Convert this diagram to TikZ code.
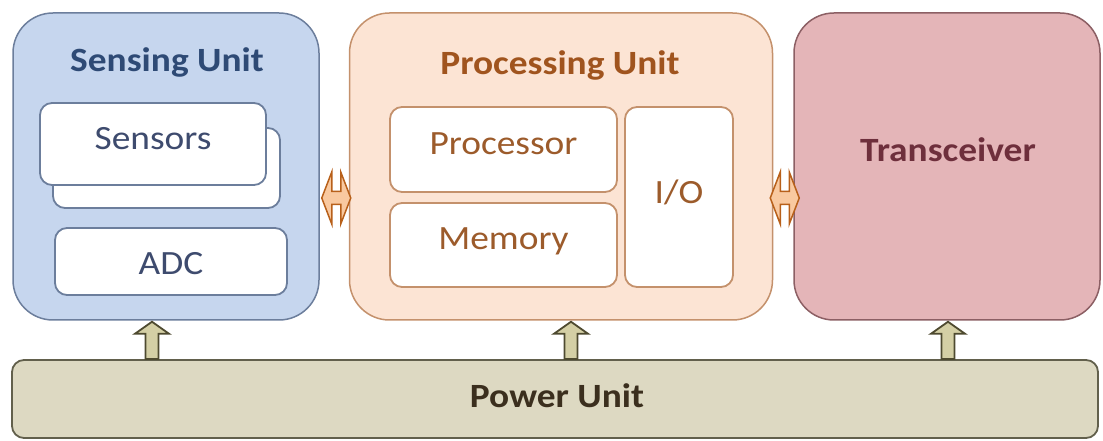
\documentclass[tikz,border=0pt]{standalone}
\usepackage{fontspec}
\setmainfont[FakeStretch=1.1]{Carlito}
\usetikzlibrary{calc}
\definecolor{senFill}{HTML}{C6D6EE}
\definecolor{senLine}{HTML}{6C7E9C}
\definecolor{senText}{HTML}{2E4A75}
\definecolor{senIn}{HTML}{3E4B6E}
\definecolor{proFill}{HTML}{FCE4D4}
\definecolor{proLine}{HTML}{C4916C}
\definecolor{proText}{HTML}{A0541E}
\definecolor{proIn}{HTML}{9C5B2B}
\definecolor{trFill}{HTML}{E4B5B8}
\definecolor{trLine}{HTML}{8C5F64}
\definecolor{trText}{HTML}{6E2F3C}
\definecolor{pwFill}{HTML}{DDD9C2}
\definecolor{pwLine}{HTML}{62604C}
\definecolor{pwText}{HTML}{3B2F1E}
\definecolor{daLine}{HTML}{B8601A}
\definecolor{daFill}{HTML}{F9C9A0}
\definecolor{uaLine}{HTML}{4E4A30}
\definecolor{uaFill}{HTML}{D4CFA5}
\tikzset{
  x=1pt, y=1pt,
  unitbox/.style={rounded corners=40pt, line width=1.5pt, inner sep=0pt},
  inbox/.style={rounded corners=12pt, line width=1.8pt, fill=white, inner sep=0pt},
  bigtxt/.style={font=\fontsize{34}{40}\selectfont\bfseries},
  smalltxt/.style={font=\fontsize{34}{40}\selectfont},
  darr/.style={draw=daLine, fill=daFill, line width=1.5pt, line join=miter},
  uarr/.style={draw=uaLine, fill=uaFill, line width=1.8pt, line join=miter},
}
\begin{document}
\begin{tikzpicture}
\useasboundingbox (0,0) rectangle (1103,441);
% units
\node[unitbox, draw=senLine, fill=senFill, minimum width=306pt, minimum height=307pt] (sense) at (166,274.5) {};
\node[unitbox, draw=proLine, fill=proFill, minimum width=423pt, minimum height=307pt] (proc) at (561,274.5) {};
\node[unitbox, draw=trLine, fill=trFill, minimum width=306pt, minimum height=307pt] (trans) at (947,274.5) {};
\node[rounded corners=12pt, line width=1.8pt, draw=pwLine, fill=pwFill, inner sep=0pt, minimum width=1086pt, minimum height=78pt] (power) at (555,42) {};
% titles
\node[bigtxt, text=senText] (senT) at (167,379) {Sensing Unit};
\node[bigtxt, text=proText] (proT) at (560,376) {Processing Unit};
\node[bigtxt, text=trText] (trT) at (948,291) {Transceiver};
\node[bigtxt, text=pwText] (pwT) at (557,45) {Power Unit};
% sensing inner
\node[inbox, draw=senLine, minimum width=227pt, minimum height=80pt] (sensB) at (166.5,273) {};
\node[inbox, draw=senLine, minimum width=226pt, minimum height=82pt] (sensF) at (153,297) {};
\node[smalltxt, text=senIn] (sensT) at (153,302) {Sensors};
\node[inbox, draw=senLine, minimum width=232pt, minimum height=67pt] (adc) at (171,179.5) {};
\node[smalltxt, text=senIn] (adcT) at (171,177) {ADC};
% processing inner
\node[inbox, draw=proLine, minimum width=227pt, minimum height=85pt] (cpu) at (503.5,291.5) {};
\node[smalltxt, text=proIn] (cpuT) at (503.5,297) {Processor};
\node[inbox, draw=proLine, minimum width=227pt, minimum height=84pt] (mem) at (503.5,196) {};
\node[smalltxt, text=proIn] (memT) at (503.5,200) {Memory};
\node[inbox, draw=proLine, minimum width=108pt, minimum height=180pt] (io) at (679,244) {};
\node[smalltxt, text=proIn] (ioT) at (679,249) {I/O};
% double arrows
\coordinate (l1) at ($(sense.east |- 0,243)+(2,0)$);
\coordinate (r1) at ($(proc.west |- 0,243)+(2,0)$);
\coordinate (l2) at ($(proc.east |- 0,243)+(-3,0)$);
\coordinate (r2) at ($(trans.west |- 0,243)+(6,0)$);
\draw[darr] let \p1=(l1), \p2=(r1) in
  (\x1,\y1) -- (\x1+10pt,\y1+26pt) -- (\x1+10pt,\y1+6.5pt) -- (\x2-10pt,\y1+6.5pt) -- (\x2-10pt,\y1+26pt) -- (\x2,\y1)
  -- (\x2-10pt,\y1-26pt) -- (\x2-10pt,\y1-6.5pt) -- (\x1+10pt,\y1-6.5pt) -- (\x1+10pt,\y1-26pt) -- cycle;
\draw[darr] let \p1=(l2), \p2=(r2) in
  (\x1,\y1) -- (\x1+10pt,\y1+26pt) -- (\x1+10pt,\y1+6.5pt) -- (\x2-10pt,\y1+6.5pt) -- (\x2-10pt,\y1+26pt) -- (\x2,\y1)
  -- (\x2-10pt,\y1-26pt) -- (\x2-10pt,\y1-6.5pt) -- (\x1+10pt,\y1-6.5pt) -- (\x1+10pt,\y1-26pt) -- cycle;
% up arrows from power unit
\foreach \nm/\xx in {sense/152, proc/571, trans/948} {
  \draw[uarr] let \p1=(power.north -| \xx,0), \p2=(\nm.south -| \xx,0) in
    (\x1-6.5pt,\y1) -- (\x1-6.5pt,\y2-13pt) -- (\x1-17pt,\y2-13pt) -- (\x1,\y2-1pt) -- (\x1+17pt,\y2-13pt) -- (\x1+6.5pt,\y2-13pt) -- (\x1+6.5pt,\y1) -- cycle;
}
\end{tikzpicture}
\end{document}
